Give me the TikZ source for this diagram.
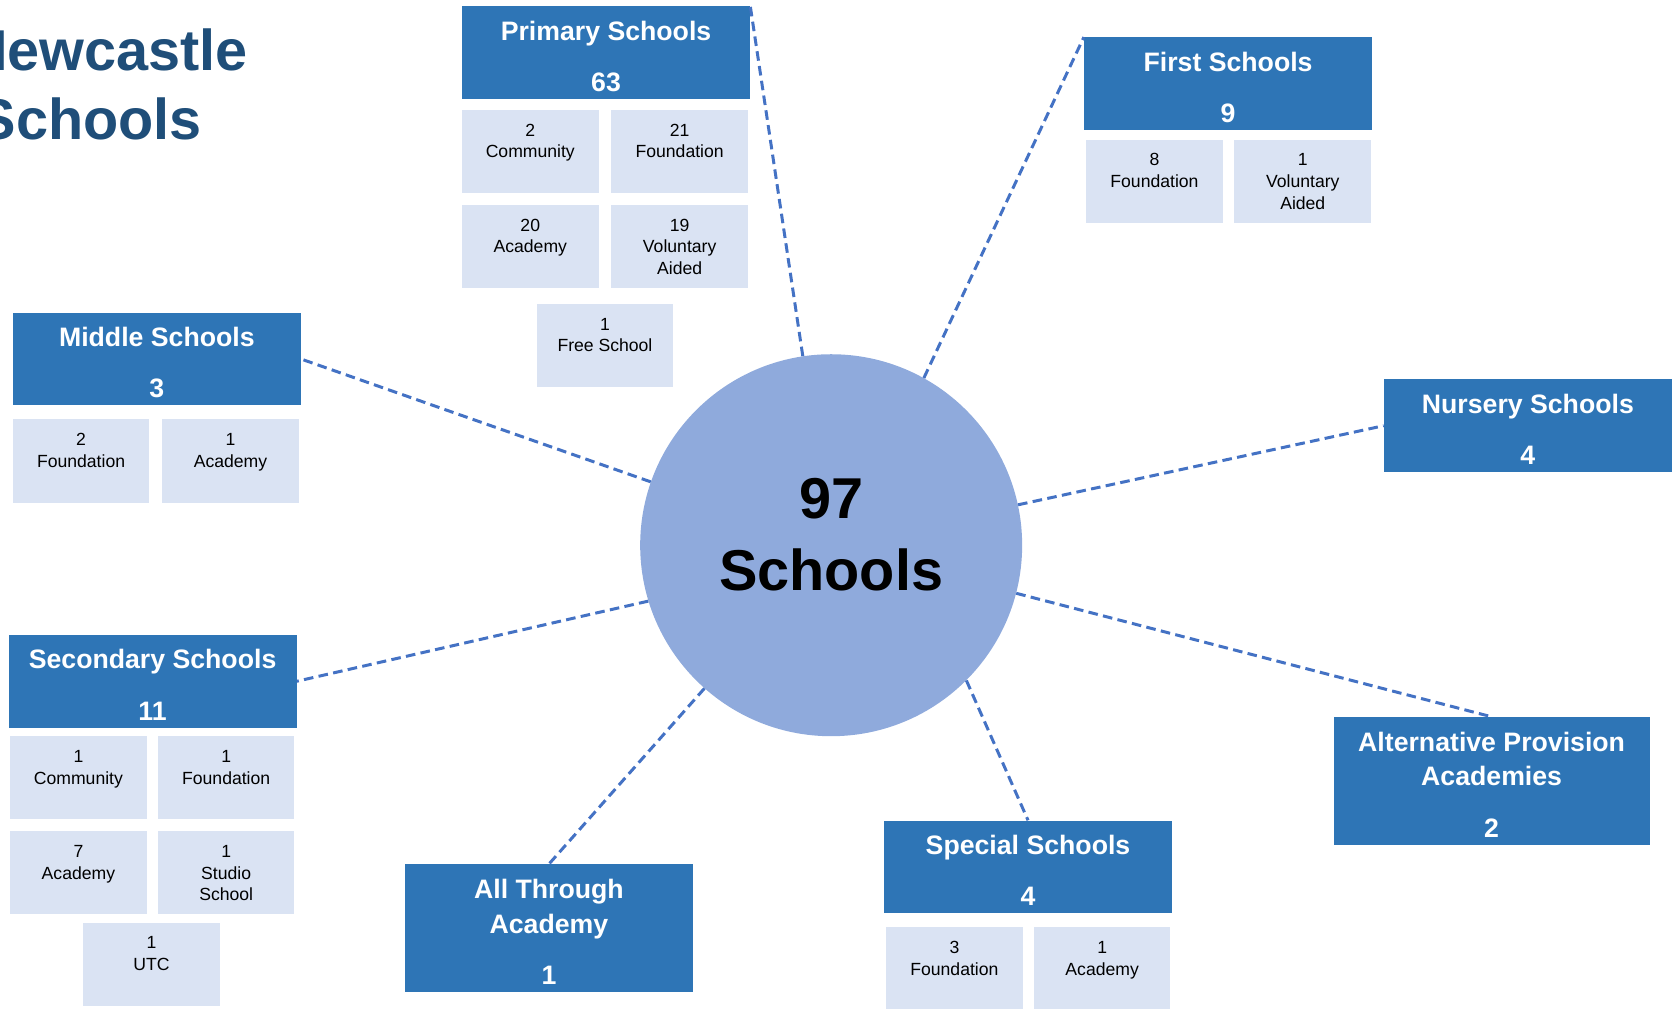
\documentclass[tikz,border=0pt]{standalone}
\usepackage{fontspec}
\setmainfont{Liberation Sans}
\usetikzlibrary{positioning}

\definecolor{boxblue}{HTML}{2E75B6}
\definecolor{cellblue}{HTML}{DAE3F3}
\definecolor{linkblue}{HTML}{4472C4}
\definecolor{hubblue}{HTML}{8FAADC}
\definecolor{titleblue}{HTML}{1F4E79}

\newcommand{\cell}[2]{\parbox[c][78pt][t]{128pt}{\centering\vspace*{13pt}#1\\#2}}
\newcommand{\headstrut}{\rule{0pt}{25pt}}

\begin{document}
\begin{tikzpicture}[x=1pt, y=-1pt,
  group/.style={fill=boxblue, text=white, align=center, minimum width=270pt, minimum height=87pt, inner sep=0pt, font=\bfseries\fontsize{25}{32}\selectfont},
  kind/.style={fill=cellblue, inner sep=0pt, font=\fontsize{16.5}{20.5}\selectfont},
  link/.style={linkblue, line width=2.8pt, dash pattern=on 9pt off 5pt}]
\useasboundingbox (0,0) rectangle (1568,945);

\node[anchor=base west, align=left, inner sep=0pt, text=titleblue, font=\bfseries\fontsize{54}{65}\selectfont] (title) at (-32,131) {Newcastle\\\hspace*{11pt}Schools};

\path
(779,511) node[circle, fill=hubblue, minimum size=358pt, inner sep=0pt, align=center, text depth=20pt, font=\bfseries\fontsize{54}{68}\selectfont] (hub) {97\\Schools}

(568,49.5)   node[group] (primary) {\headstrut Primary Schools\\[16pt]63}
(497,142)    node[kind] (p1) {\cell{2}{Community}}
(637,142)    node[kind] (p2) {\cell{21}{Foundation}}
(497,231)    node[kind] (p3) {\cell{20}{Academy}}
(637,231)    node[kind] (p4) {\cell{19}{Voluntary\\Aided}}
(567,324)    node[kind] (p5) {\cell{1}{Free School}}

(1151,78.5)  node[group] (first) {\headstrut First Schools\\[16pt]9}
(1082,170)   node[kind] (f1) {\cell{8}{Foundation}}
(1221,170)   node[kind] (f2) {\cell{1}{Voluntary\\Aided}}

(147,336.5)  node[group] (middle) {\headstrut Middle Schools\\[16pt]3}
(76,432)     node[kind] (m1) {\cell{2}{Foundation}}
(216,432)    node[kind] (m2) {\cell{1}{Academy}}

(1432,399)   node[group] (nursery) {\headstrut Nursery Schools\\[16pt]4}

(143,638.5)  node[group] (secondary) {\headstrut Secondary Schools\\[16pt]11}
(73.5,729)   node[kind] (s1) {\cell{1}{Community}}
(212,729)    node[kind] (s2) {\cell{1}{Foundation}}
(73.5,818)   node[kind] (s3) {\cell{7}{Academy}}
(212,818)    node[kind] (s4) {\cell{1}{Studio\\School}}
(142,904)    node[kind] (s5) {\cell{1}{UTC}}

(514.5,870)  node[group, minimum height=120pt] (through) {\headstrut All Through\\Academy\\[16pt]1}

(963.5,812.5) node[group] (special) {\headstrut Special Schools\\[16pt]4}
(894.5,908)  node[kind] (x1) {\cell{3}{Foundation}}
(1033,908)   node[kind] (x2) {\cell{1}{Academy}}

(1398,732)   node[group, minimum width=296pt, minimum height=120pt] (alt) {\headstrut Alternative Provision\\Academies\\[16pt]2};

\draw[link] (hub) -- (primary.north east);
\draw[link] (hub.61) -- (first.north west);
\draw[link] (hub) -- (middle.east);
\draw[link] (hub) -- (nursery.west);
\draw[link] (hub.197) -- (secondary.east);
\draw[link] (hub) -- (through.north);
\draw[link] (hub.-45) -- (special.north);
\draw[link] (hub) -- (alt.north);
\end{tikzpicture}
\end{document}
